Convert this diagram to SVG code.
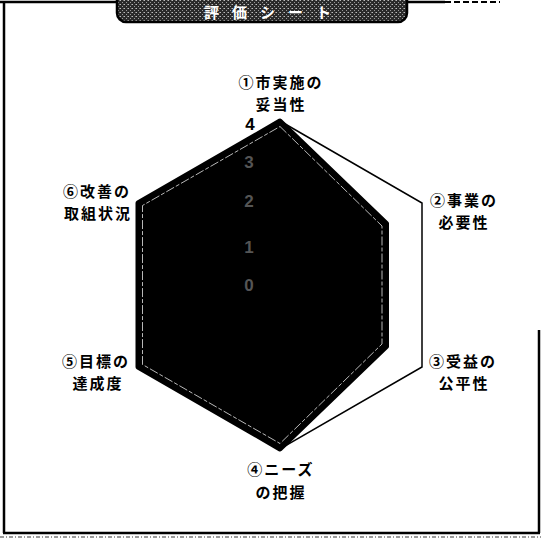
<svg xmlns="http://www.w3.org/2000/svg" width="541" height="540" viewBox="0 0 541 540">
  <defs>
    <pattern id="halftone" width="4" height="4" patternUnits="userSpaceOnUse">
      <rect width="4" height="4" fill="#2a2a2a"/>
      <rect x="0" y="0" width="1" height="1" fill="#bbbbbb"/>
      <rect x="2" y="2" width="1" height="1" fill="#999999"/>
      <rect x="3" y="0" width="1" height="1" fill="#777777"/>
    </pattern>
  </defs>
  <style>
    .frame { fill: none; stroke: #000; stroke-width: 2.5; }
    .lbl { font-family: "Noto Sans CJK JP", "Noto Sans CJK SC", sans-serif; font-size: 15px; font-weight: bold; fill: #000; text-anchor: middle; letter-spacing: 2px; }
    .val { font-family: "Liberation Sans", Arial, sans-serif; font-size: 17px; font-weight: bold; text-anchor: middle; }
    .grid { fill: none; stroke: #000; stroke-width: 1.5; stroke-linejoin: miter; }
    .data { fill: #000; stroke: #000; stroke-width: 5; stroke-linejoin: round; }
    .inner { fill: none; stroke: #d8d8d8; stroke-width: 1; stroke-dasharray: 9 2 4 2; opacity: 0.85; }
  </style>
  <rect width="541" height="540" fill="#ffffff"/>

  <!-- outer frame (partly faded in the scan) -->
  <g id="frame">
    <line class="frame" x1="4" y1="2" x2="4" y2="533"/>
    <line class="frame" x1="3" y1="533" x2="540" y2="533"/>
    <line class="frame" x1="539" y1="330" x2="539" y2="533"/>
    <line class="frame" x1="0" y1="2" x2="118" y2="2"/>
    <line class="frame" x1="406" y1="2" x2="445" y2="2"/>
    <line x1="445" y1="2" x2="500" y2="2" stroke="#000" stroke-width="2" stroke-dasharray="6 3"/>
    <line x1="0" y1="537" x2="541" y2="537" stroke="#9a9a9a" stroke-width="2" stroke-dasharray="4 2 1 2"/>
  </g>

  <!-- title banner -->
  <g id="title">
    <rect x="117" y="-12" width="290" height="34" rx="9" ry="9" fill="url(#halftone)" stroke="#000" stroke-width="2.5"/>
    <text x="274" y="18" font-family="Noto Sans CJK JP, sans-serif" font-size="15" font-weight="bold" fill="#ffffff" text-anchor="middle" letter-spacing="13">評価シート</text>
  </g>

  <!-- radar chart -->
  <g id="chart">
    <polygon id="grid-4" class="grid" points="280,121 422,203 422,367 280,449 138,367 138,203"/>
    <polygon id="data" class="data" points="280,121 386.5,223.5 386.5,346.5 280,449 138,367 138,203"/>
    <polygon class="inner" points="280,126.5 382,226 382,344 280,443.5 142.5,364.5 142.5,205.5"/>
  </g>

  <!-- scale values -->
  <g id="scale">
    <text class="val" x="250" y="130" fill="#000">4</text>
    <text class="val" x="249" y="168" fill="#555">3</text>
    <text class="val" x="249" y="207" fill="#555">2</text>
    <text class="val" x="249" y="253" fill="#555">1</text>
    <text class="val" x="249" y="291" fill="#555">0</text>
  </g>

  <!-- axis labels -->
  <g id="axis1">
    <text class="lbl" x="281" y="88">①市実施の</text>
    <text class="lbl" x="281" y="110">妥当性</text>
  </g>
  <g id="axis2">
    <text class="lbl" x="464" y="206">②事業の</text>
    <text class="lbl" x="464" y="228">必要性</text>
  </g>
  <g id="axis3">
    <text class="lbl" x="463" y="367">③受益の</text>
    <text class="lbl" x="464" y="389">公平性</text>
  </g>
  <g id="axis4">
    <text class="lbl" x="281" y="475">④ニーズ</text>
    <text class="lbl" x="281" y="498">の把握</text>
  </g>
  <g id="axis5">
    <text class="lbl" x="96" y="367">⑤目標の</text>
    <text class="lbl" x="98" y="389">達成度</text>
  </g>
  <g id="axis6">
    <text class="lbl" x="97" y="197">⑥改善の</text>
    <text class="lbl" x="98" y="219">取組状況</text>
  </g>
</svg>
